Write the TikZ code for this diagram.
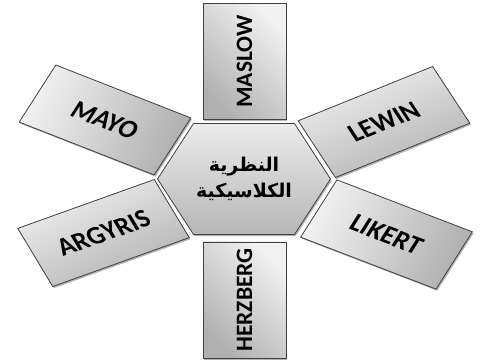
\documentclass[tikz,border=0pt]{standalone}
\usepackage{fontspec}
\setmainfont{Carlito}
\newfontfamily\arabicfont[Script=Arabic]{DejaVu Sans}
\TeXXeTstate=1
\usetikzlibrary{shapes.symbols}

\definecolor{boxlight}{HTML}{F2F2F2}
\definecolor{boxdark}{HTML}{B0B0B0}
\definecolor{boxline}{HTML}{404040}

\begin{document}
\begin{tikzpicture}[x=1pt, y=1pt,
    softshadow/.style={preaction={fill=black, opacity=0.3,
      transform canvas={xshift=1.2pt, yshift=-1.6pt}}},
    theorist/.style={draw=boxline, line width=0.8pt, inner sep=0pt, softshadow,
      top color=boxlight, bottom color=boxdark, shading angle=45-#1,
      rotate=#1, minimum width=145pt, minimum height=66.5pt,
      font=\bfseries\fontsize{26.5}{28}\selectfont},
    upright/.style={theorist=90, minimum width=116pt, minimum height=83pt,
      font=\bfseries\fontsize{23.5}{26}\selectfont},
    hexcore/.style={shape=signal, signal to=east and west, signal pointer angle=114,
      draw=boxline, line width=0.8pt, inner sep=0pt, align=center, softshadow,
      top color=boxlight!90!boxdark, bottom color=boxdark!90!boxlight,
      minimum width=173pt, minimum height=111pt,
      font=\arabicfont\bfseries\fontsize{19}{26}\selectfont}]
    \useasboundingbox (0,0) rectangle (494,361);

    % Centre hexagon
    \node[hexcore] (core) at (244,182) {\beginR النظرية\endR\\\beginR الكلاسيكية\endR};

    % Vertical boxes
    \node[upright] (maslow) at (244.5,299.5) {MASLOW};
    \node[upright] (herzberg) at (244.5,61) {HERZBERG};

    % Slanted boxes
    \node[theorist=-21.4, xslant=0.2] (mayo) at (105,241) {MAYO};
    \node[theorist=22, xslant=-0.2] (lewin) at (384,239) {LEWIN};
    \node[theorist=19.7, xslant=-0.2] (argyris) at (103.5,128) {ARGYRIS};
    \node[theorist=-21, xslant=0.2] (likert) at (386.5,126.5) {LIKERT};
\end{tikzpicture}
\end{document}
